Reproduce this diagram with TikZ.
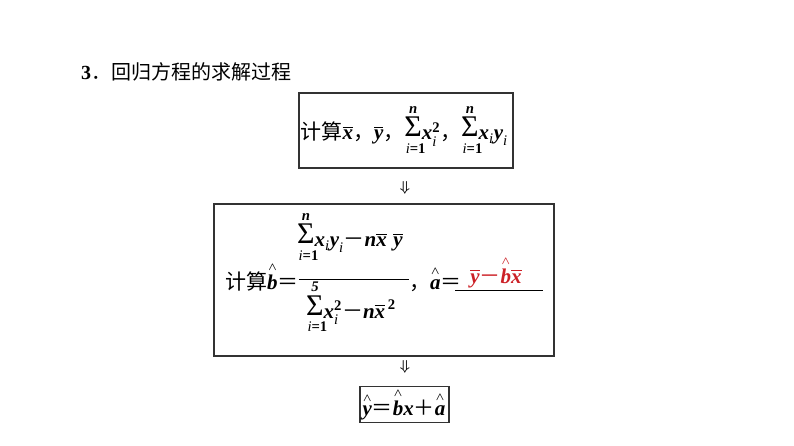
\documentclass[tikz,border=0pt]{standalone}
\usepackage{amsmath}
\usepackage{fontspec}
\setmainfont{Liberation Serif}
\newfontfamily\cjk{Noto Sans CJK SC}
\usepackage{xcolor}
\definecolor{ansred}{RGB}{204,32,38}
\usetikzlibrary{positioning}
% bold italic letters, full-width signs
\newcommand{\V}[1]{\text{\bfseries\itshape #1}}
\newcommand{\B}[1]{\text{\bfseries #1}}
\newcommand{\idx}{\text{\itshape i}}
\newcommand{\avg}[1]{\overline{\V{#1}}}
\newcommand{\est}[1]{\overset{\scriptscriptstyle\wedge}{\V{#1}}}
\newcommand{\eqs}{\text{\cjk ＝}}
\newcommand{\mns}{\text{\cjk －}}
\newcommand{\pls}{\text{\cjk ＋}}
\newcommand{\comma}{{\cjk ，}}
\newcommand{\sigmabig}{\raisebox{3pt}{\fontsize{30}{30}\selectfont Σ}}
\newcommand{\tot}[1]{\mathop{\sigmabig}\limits_{\rule{0pt}{8pt}\makebox[0pt]{\hspace{5pt}$\scriptstyle\idx\B{=1}$}}^{\V{#1}}\!}

\begin{document}
\begin{tikzpicture}[x=1pt,y=1pt,
box/.style = {draw=black!80, line width=1.2pt, rectangle, inner sep=0pt},
txt/.style = {font=\fontsize{21}{25}\selectfont\boldmath, inner sep=0pt},
arrowsym/.style = {font=\fontsize{14}{16}\selectfont\boldmath, inner sep=0pt},
title/.style = {font=\fontsize{20}{24}\selectfont, inner sep=0pt}
]
    \useasboundingbox (0,0) rectangle (794,-446);

    % title
    \node [title, anchor=base west] (head) at (81,-80) {\textbf{3}{\cjk ．回归方程的求解过程}};

    % step 1
    \node [box, minimum width=214, minimum height=75] (step1) at (406,-130.5) {};
    \node [txt, anchor=base west] (sums) at ([xshift=2]step1.west |- 0,-140) {{\cjk 计算}$\avg{x}$\comma$\avg{y}$\comma$\tot{n}\V{x}_{\idx}^{\B{2}}$\comma$\tot{n}\V{x}_{\idx}\V{y}_{\idx}$};

    \node [arrowsym] (down1) at (405,-188) {$\Downarrow$};

    % step 2
    \node [box, minimum width=340, minimum height=152] (step2) at (384,-280) {};
    \node [txt, anchor=base west] (bdef) at (225,-289) {{\cjk 计算}$\est{b}\eqs$};
    \draw [line width=1pt] ([yshift=10]bdef.base east) -- ++(110,0) coordinate (barr);
    \node [txt, anchor=base] (numer) at (350,-247) {$\tot{n}\V{x}_{\idx}\V{y}_{\idx}\mns\V{n}\avg{x}\;\avg{y}$};
    \node [txt, anchor=base] (denom) at (351,-318) {$\tot{5}\V{x}_{\idx}^{\B{2}}\mns\V{n}\avg{x}^{\,\B{2}}$};
    \node [txt, anchor=base west] (adef) at ([yshift=-10]barr) {\comma$\est{a}\eqs$};
    \draw [line width=1pt] (455,-290) -- (543,-290);
    \node [txt, anchor=base, text=ansred] (ans) at (496,-283) {$\avg{y}\mns\est{b}\avg{x}$};

    \node [arrowsym] (down2) at (405,-367) {$\Downarrow$};

    % step 3
    \node [box, minimum width=89, minimum height=36] (step3) at (404.5,-404.5) {};
    \node [txt, anchor=base] (line) at (404,-415) {$\est{y}\eqs\est{b}\V{x}\pls\est{a}$};

\end{tikzpicture}
\end{document}
